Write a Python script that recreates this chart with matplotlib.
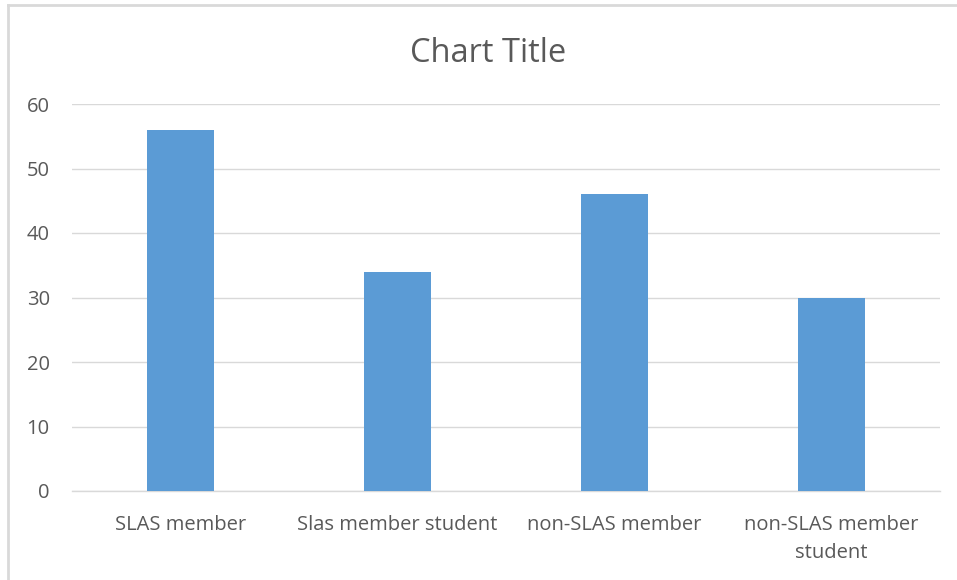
import matplotlib
matplotlib.use("Agg")
import matplotlib.pyplot as plt
from matplotlib.lines import Line2D

categories = ["SLAS member", "Slas member student", "non-SLAS member", "non-SLAS member\nstudent"]
values = [56, 34, 46, 30]
yticks = [0, 10, 20, 30, 40, 50, 60]
title = "Chart Title"

plt.rcParams['font.family'] = ['Open Sans', 'DejaVu Sans']
fig = plt.figure(figsize=(9.57, 5.80), dpi=100)
ax = fig.add_axes([72/957, 1-491/580, (940-72)/957, (491-104)/580])

x = list(range(len(categories)))
ax.bar(x, values, width=0.31, color="#5B9BD5", zorder=3)
ax.set_xlim(-0.5, len(categories)-0.5)
ax.set_ylim(0, 60)
ax.set_yticks(yticks)
ax.set_xticks(x)
ax.set_xticklabels(categories, fontsize=14.5, color="#595959", linespacing=1.55)
ax.tick_params(axis='y', labelsize=14.5, labelcolor="#595959", length=0, pad=16)
ax.tick_params(axis='x', length=0, pad=17)
ax.grid(axis='y', color="#D9D9D9", linewidth=1, zorder=0)
for s in ["top", "right", "left"]:
    ax.spines[s].set_visible(False)
ax.spines["bottom"].set_color("#D9D9D9")
ax.spines["bottom"].set_linewidth(1)
fig.text(488/957, 1-53/580, title, ha="center", va="center", fontsize=23.5, color="#595959")

fig.add_artist(Line2D([8/957, 1], [1-5/580, 1-5/580], color="#D9D9D9", linewidth=2, transform=fig.transFigure))
fig.add_artist(Line2D([8/957, 8/957], [0, 1-5/580], color="#D9D9D9", linewidth=2, transform=fig.transFigure))

fig.savefig("out.png", dpi=100)
